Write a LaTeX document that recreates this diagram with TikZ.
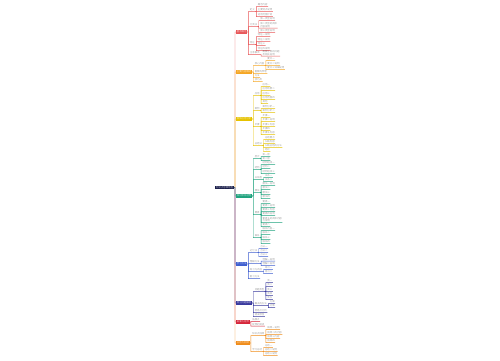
\documentclass[tikz,border=0pt]{standalone}
\usepackage{fontspec}
\newfontfamily\cjk{Noto Sans CJK SC Light}
\usetikzlibrary{positioning,backgrounds}
\definecolor{navy}{HTML}{1B1F4B}
\definecolor{c1}{HTML}{E8585A}
\definecolor{c2}{HTML}{F5A623}
\definecolor{c3}{HTML}{E6C200}
\definecolor{c4}{HTML}{1FA37E}
\definecolor{c5}{HTML}{3F5FD0}
\definecolor{c6}{HTML}{3A3A9E}
\definecolor{c7}{HTML}{D6263A}
\definecolor{c8}{HTML}{F08C1A}

\begin{document}
\begin{tikzpicture}[x=1pt, y=-1pt,
    every node/.style={font=\cjk\fontsize{2.4}{2.8}\selectfont},
    root/.style={fill=navy, text=white, inner sep=0.8pt, anchor=east},
    branch/.style={fill=#1, text=white, inner sep=0.7pt, anchor=west},
    topic/.style={text opacity=0.55, inner sep=0.35pt, anchor=west, xshift=2pt, align=left},
    link/.style={fill=#1}
]
\useasboundingbox (0,0) rectangle (500,360);
\begin{scope}[on background layer]
  \fill[white] (0,0) rectangle (500,360);
\end{scope}

% Root
\node[root] (root) at (234,187.5) {知识点思维导图};

% Main branches
\node[branch=c1] (b1) at (236,32) {基本概念};
\node[branch=c2] (b2) at (236,72) {主要内容概述};
\node[branch=c3] (b3) at (236,119) {具体应用分析};
\node[branch=c4] (b4) at (236,196) {知识体系结构};
\node[branch=c5] (b5) at (236,264) {学习方法};
\node[branch=c6] (b6) at (236,303) {常见问题解答};
\node[branch=c7] (b7) at (236,322) {拓展与延伸};
\node[branch=c8] (b8) at (236,343) {总结与回顾};

% Branch 1
\node[topic] (b1a) at (b1.east |- 0,10) {定义};
\node[topic] (b1b) at (b1.east |- 0,25) {分类法};
\node[topic] (b1c) at (b1.east |- 0,43) {特征};
\node[topic] (b1d) at (b1.east |- 0,53) {注意事项};
\foreach \y/\t [count=\i] in {5/概念内容, 10/主要特点说明, 15/适用范围介绍}
  \node[topic] (b1a\i) at (b1a.east |- 0,\y) {\t};
\foreach \y/\t [count=\i] in {19/第一类型说明, 25/{第二类型的具体\\内容说明}, 31/第三类型说明}
  \node[topic] (b1b\i) at (b1b.east |- 0,\y) {\t};
\foreach \y/\t [count=\i] in {35/特征一说明, 40/特征二说明, 44/特征三, 49/特征四说明}
  \node[topic] (b1c\i) at (b1c.east |- 0,\y) {\t};
\node[topic] (b1d1) at (b1d.east |- 0,53) {需要注意的问题\\及相关说明};

% Branch 2
\node[topic] (b2a) at (b2.east |- 0,64) {核心内容};
\node[topic] (b2b) at (b2.east |- 0,72) {重要的原理};
\node[topic] (b2c) at (b2.east |- 0,76) {方法};
\node[topic] (b2d) at (b2.east |- 0,80) {技巧类};
\foreach \y/\t [count=\i] in {59/要点一, 64/要点二说明, 68/要点三详细说明}
  \node[topic] (b2a\i) at (b2a.east |- 0,\y) {\t};

% Branch 3
\node[topic] (b3a) at (b3.east |- 0,94) {应用};
\node[topic] (b3b) at (b3.east |- 0,109) {案例};
\node[topic] (b3c) at (b3.east |- 0,125) {步骤};
\node[topic] (b3d) at (b3.east |- 0,144) {总结法};
\foreach \y/\t [count=\i] in {85/应用一, 89/应用场景二, 94/应用三, 98/应用范围四, 102/其他}
  \node[topic] (b3a\i) at (b3a.east |- 0,\y) {\t};
\foreach \y/\t [count=\i] in {107/案例分析一, 111/案例分析二}
  \node[topic] (b3b\i) at (b3b.east |- 0,\y) {\t};
\foreach \y/\t [count=\i] in {116/步骤一, 120/步骤二说明, 125/步骤三内容, 129/步骤四, 133/步骤五内容}
  \node[topic] (b3c\i) at (b3c.east |- 0,\y) {\t};
\foreach \y/\t [count=\i] in {138/总结要点, 142/归纳内容, 146/归纳总结的方法, 150/结论}
  \node[topic] (b3d\i) at (b3d.east |- 0,\y) {\t};

% Branch 4
\node[topic] (b4a) at (b4.east |- 0,157) {层次};
\node[topic] (b4b) at (b4.east |- 0,168) {结构};
\node[topic] (b4c) at (b4.east |- 0,178) {关系图};
\node[topic] (b4d) at (b4.east |- 0,191) {模块};
\node[topic] (b4e) at (b4.east |- 0,213) {要素};
\node[topic] (b4f) at (b4.east |- 0,236) {联系};
\foreach \y/\t [count=\i] in {155/第一层, 159/第二层}
  \node[topic] (b4a\i) at (b4a.east |- 0,\y) {\t};
\foreach \y/\t [count=\i] in {163/结构组成一, 167/结构二, 172/结构组成三}
  \node[topic] (b4b\i) at (b4b.east |- 0,\y) {\t};
\foreach \y/\t [count=\i] in {176/关系一, 180/关系二}
  \node[topic] (b4c\i) at (b4c.east |- 0,\y) {\t};
\foreach \y/\t [count=\i] in {184/模块一说明, 188/模块二, 193/模块三, 197/模块四}
  \node[topic] (b4d\i) at (b4d.east |- 0,\y) {\t};
\foreach \y/\t [count=\i] in {202/要素一, 206/要素二说明, 210/要素三内容, 214/要素四说明, 219.5/{要素五的具体内容\\与说明}, 225/要素六}
  \node[topic] (b4e\i) at (b4e.east |- 0,\y) {\t};
\foreach \y/\t [count=\i] in {229/联系内容一, 233/联系二, 238/联系三, 242/联系四}
  \node[topic] (b4f\i) at (b4f.east |- 0,\y) {\t};

% Branch 5
\node[topic] (b5a) at (b5.east |- 0,251) {记忆法};
\node[topic] (b5b) at (b5.east |- 0,262) {理解方法};
\node[topic] (b5c) at (b5.east |- 0,270) {练习与巩固};
\node[topic] (b5d) at (b5.east |- 0,277) {复习方法};
\foreach \y/\t [count=\i] in {247/方法一, 251/方法二, 255/方法三}
  \node[topic] (b5a\i) at (b5a.east |- 0,\y) {\t};
\foreach \y/\t [count=\i] in {259.5/理解一说明, 264/理解二说明}
  \node[topic] (b5b\i) at (b5b.east |- 0,\y) {\t};
\foreach \y/\t [count=\i] in {268/练习一, 272/练习二}
  \node[topic] (b5c\i) at (b5c.east |- 0,\y) {\t};

% Branch 6
\node[topic] (b6a) at (b6.east |- 0,290) {问题类型};
\node[topic] (b6b) at (b6.east |- 0,304) {解决的办法};
\node[topic] (b6c) at (b6.east |- 0,311) {易错点分析};
\node[topic] (b6d) at (b6.east |- 0,315) {错误原因};
\foreach \y/\t [count=\i] in {281/类一, 285/类二, 290/类三, 294/类四, 298/类五}
  \node[topic] (b6a\i) at (b6a.east |- 0,\y) {\t};
\foreach \y/\t [count=\i] in {302/方案, 306/对策}
  \node[topic] (b6b\i) at (b6b.east |- 0,\y) {\t};

% Branch 7
\node[topic] (b7a) at (b7.east |- 0,320) {拓展点};
\node[topic] (b7b) at (b7.east |- 0,324.5) {延伸的阅读};

% Branch 8
\node[topic] (b8a) at (b8.east |- 0,334) {知识点回顾};
\node[topic] (b8b) at (b8.east |- 0,350) {学习总结};
\foreach \y/\t [count=\i] in {328/回顾一说明, 333/回顾二的内容, 337/回顾三内容, 341/回顾四}
  \node[topic] (b8a\i) at (b8a.east |- 0,\y) {\t};
\foreach \y/\t [count=\i] in {346/总结一, 350/总结二说明, 354/总结三说明}
  \node[topic] (b8b\i) at (b8b.east |- 0,\y) {\t};

% Connectors as thin filled bars, behind the text
\begin{scope}[on background layer]
  % trunk
  \foreach \b/\c in {b1/c1, b2/c2, b3/c3, b8/c8, b7/c7, b6/c6, b5/c5, b4/c4} {
    \path (root.east) ++(1,0) coordinate (k) (k |- \b.west) coordinate (m);
    \fill[link=\c] ([yshift=-0.2pt]root.east) rectangle ([xshift=0.2pt,yshift=0.2pt]k)
      ([xshift=-0.2pt]k) rectangle ([xshift=0.2pt]m)
      ([xshift=-0.2pt,yshift=-0.2pt]m) rectangle ([yshift=0.2pt]\b.west);
  }
  % branch -> topic
  \foreach \p/\c/\n in {b1/c1/b1a, b1/c1/b1b, b1/c1/b1c, b1/c1/b1d,
      b2/c2/b2a, b2/c2/b2b, b2/c2/b2c, b2/c2/b2d,
      b3/c3/b3a, b3/c3/b3b, b3/c3/b3c, b3/c3/b3d,
      b4/c4/b4a, b4/c4/b4b, b4/c4/b4c, b4/c4/b4d, b4/c4/b4e, b4/c4/b4f,
      b5/c5/b5a, b5/c5/b5b, b5/c5/b5c, b5/c5/b5d,
      b6/c6/b6a, b6/c6/b6b, b6/c6/b6c, b6/c6/b6d,
      b7/c7/b7a, b7/c7/b7b, b8/c8/b8a, b8/c8/b8b} {
    \path (\p.east) ++(1,0) coordinate (k) (k |- \n.south west) coordinate (m);
    \fill[link=\c] ([yshift=-0.2pt]\p.east) rectangle ([xshift=0.2pt,yshift=0.2pt]k)
      ([xshift=-0.2pt]k) rectangle ([xshift=0.2pt]m)
      ([xshift=-0.2pt,yshift=-0.2pt]m) rectangle ([yshift=0.2pt]\n.south east);
  }
  % topic -> leaves
  \foreach \p/\c/\k in {b1a/c1/3, b1b/c1/3, b1c/c1/4, b1d/c1/1, b2a/c2/3,
      b3a/c3/5, b3b/c3/2, b3c/c3/5, b3d/c3/4,
      b4a/c4/2, b4b/c4/3, b4c/c4/2, b4d/c4/4, b4e/c4/6, b4f/c4/4,
      b5a/c5/3, b5b/c5/2, b5c/c5/2, b6a/c6/5, b6b/c6/2, b8a/c8/4, b8b/c8/3}
    \foreach \i in {1,...,\k} {
      \path (\p.south east) ++(1,0) coordinate (k) (k |- \p\i.south west) coordinate (m);
      \fill[link=\c] ([yshift=-0.2pt]\p.south east) rectangle ([xshift=0.2pt,yshift=0.2pt]k)
        ([xshift=-0.2pt]k) rectangle ([xshift=0.2pt]m)
        ([xshift=-0.2pt,yshift=-0.2pt]m) rectangle ([yshift=0.2pt]\p\i.south east);
    }
\end{scope}

\end{tikzpicture}
\end{document}
